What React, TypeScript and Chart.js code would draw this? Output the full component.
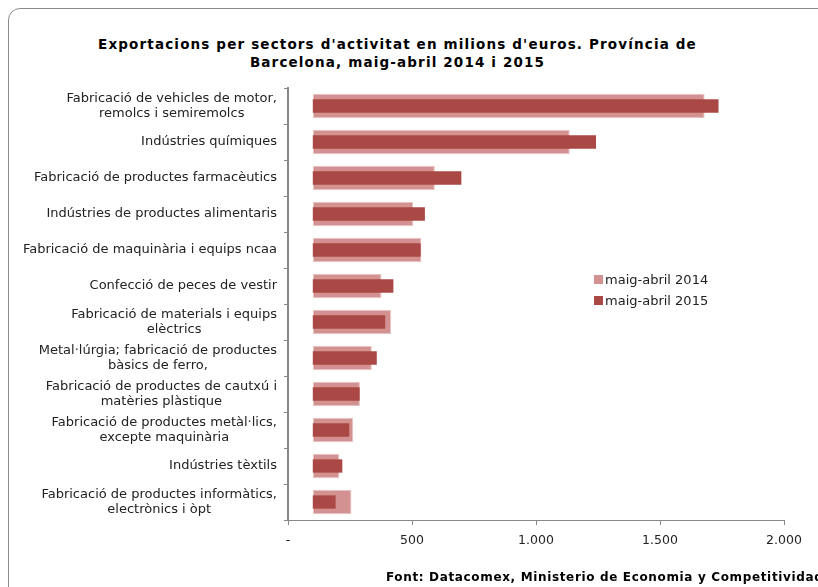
import React, { useEffect, useRef } from "react";
import { Chart, registerables } from "chart.js";

Chart.register(...registerables);

const titleLines = [
  "Exportacions per sectors d'activitat en milions d'euros. Província de",
  "Barcelona, maig-abril 2014 i 2015",
];

const categories: string[][] = [
  ["Fabricació de vehicles de motor,", "remolcs i semiremolcs"],
  ["Indústries químiques"],
  ["Fabricació de productes farmacèutics"],
  ["Indústries de productes alimentaris"],
  ["Fabricació de maquinària i equips ncaa"],
  ["Confecció de peces de vestir"],
  ["Fabricació de materials i equips", "elèctrics"],
  ["Metal·lúrgia; fabricació de productes", "bàsics de ferro,"],
  ["Fabricació de productes de cautxú i", "matèries plàstique"],
  ["Fabricació de productes metàl·lics,", "excepte maquinària"],
  ["Indústries tèxtils"],
  ["Fabricació de productes informàtics,", "electrònics i òpt"],
];

const series2014Label = "maig-abril 2014";
const series2015Label = "maig-abril 2015";

const values2014 = [1680, 1136, 592, 505, 538, 377, 416, 338, 290, 263, 207, 256];
const values2015 = [1736, 1242, 699, 552, 535, 425, 392, 358, 289, 247, 219, 192];

const axisCrossing = 100;
const xTickLabels = ["-", "500", "1.000", "1.500", "2.000"];

const sourceNote = "Font: Datacomex, Ministerio de Economia y Competitividad";

const color2014 = "#d39291";
const color2015 = "#aa4845";

const LABEL_FONT = "13px 'DejaVu Sans'";
const LABEL_LINE = 15.7;

const yLabelPlugin = {
  id: "centeredYLabels",
  afterDraw(chart: any) {
    const { ctx } = chart;
    const y = chart.scales.y;
    const rightEdge = y.right - 11;
    ctx.save();
    ctx.font = LABEL_FONT;
    ctx.fillStyle = "#222";
    ctx.textAlign = "center";
    ctx.textBaseline = "middle";
    (chart.data.labels as string[][]).forEach((lines, i) => {
      const cy = y.getPixelForValue(i);
      const w = Math.max(...lines.map((l) => ctx.measureText(l).width));
      const cx = rightEdge - w / 2;
      const startY = cy - ((lines.length - 1) * LABEL_LINE) / 2;
      lines.forEach((l, j) => ctx.fillText(l, cx, startY + j * LABEL_LINE));
    });
    ctx.restore();
  },
};

export default function App() {
  const canvasRef = useRef<HTMLCanvasElement | null>(null);

  useEffect(() => {
    const canvas = canvasRef.current;
    if (!canvas) return;
    const chart = new Chart(canvas, {
      type: "bar",
      data: {
        labels: categories,
        datasets: [
          {
            label: series2014Label,
            data: values2014,
            base: axisCrossing,
            backgroundColor: color2014,
            borderColor: "#e7c3c3",
            borderWidth: 1,
            borderSkipped: false,
            barPercentage: 0.68,
            categoryPercentage: 1,
            grouped: false,
            order: 1,
          },
          {
            label: series2015Label,
            data: values2015,
            base: axisCrossing,
            backgroundColor: color2015,
            borderWidth: 0,
            barPercentage: 0.37,
            categoryPercentage: 1,
            grouped: false,
            order: 0,
          },
        ],
      } as any,
      options: {
        indexAxis: "y",
        animation: false,
        responsive: false,
        layout: { padding: { top: 88, right: 34, bottom: 27, left: 0 } },
        plugins: {
          legend: { display: false },
          title: { display: false },
          tooltip: { enabled: false },
        },
        scales: {
          x: {
            min: 0,
            max: 2000,
            ticks: {
              stepSize: 500,
              color: "#222",
              font: { family: "DejaVu Sans", size: 12.5 },
              padding: 8,
              callback: (_v: any, i: number) => xTickLabels[i],
            },
            grid: {
              drawOnChartArea: false,
              color: "#888",
              tickLength: 5,
            },
            border: { color: "#888", width: 1 },
            afterFit: (s: any) => {
              s.height = 40;
            },
          },
          y: {
            ticks: { display: false, autoSkip: false },
            grid: {
              offset: true,
              drawOnChartArea: false,
              color: "#888",
              tickLength: 4,
            },
            border: { color: "#888", width: 2 },
            afterFit: (s: any) => {
              s.width = 288;
            },
          },
        },
      } as any,
      plugins: [yLabelPlugin],
    });
    return () => chart.destroy();
  }, []);

  return (
    <div
      style={{
        position: "fixed",
        left: 0,
        top: 0,
        width: 818,
        height: 587,
        overflow: "hidden",
        fontFamily: "DejaVu Sans",
        background: "#fff",
      }}
    >
      <div
        style={{
          position: "absolute",
          left: 8,
          top: 8,
          width: 860,
          height: 640,
          border: "1px solid #8c8c8c",
          borderRadius: 12,
          boxSizing: "border-box",
        }}
      />
      <div
        style={{
          position: "absolute",
          left: 0,
          top: 35,
          width: 795,
          textAlign: "center",
          fontWeight: "bold",
          fontSize: 13.5,
          letterSpacing: "1.15px",
          lineHeight: "18px",
          color: "#000",
          whiteSpace: "nowrap",
        }}
      >
        {titleLines.map((t, i) => (
          <div key={i}>{t}</div>
        ))}
      </div>
      <canvas
        ref={canvasRef}
        width={818}
        height={587}
        style={{ position: "absolute", left: 0, top: 0, width: 818, height: 587 }}
      />
      <div
        style={{
          position: "absolute",
          left: 594,
          top: 269,
          fontSize: 13,
          lineHeight: "21px",
          color: "#222",
        }}
      >
        {[
          [series2014Label, color2014],
          [series2015Label, color2015],
        ].map(([lab, col]) => (
          <div key={lab} style={{ display: "flex", alignItems: "center", whiteSpace: "nowrap" }}>
            <span
              style={{ display: "inline-block", width: 9, height: 9, background: col, marginRight: 2 }}
            />
            <span>{lab}</span>
          </div>
        ))}
      </div>
      <div
        style={{
          position: "absolute",
          left: 386,
          top: 569,
          fontWeight: "bold",
          fontSize: 12,
          letterSpacing: "0.65px",
          lineHeight: "16px",
          whiteSpace: "nowrap",
          color: "#000",
        }}
      >
        {sourceNote}
      </div>
    </div>
  );
}
